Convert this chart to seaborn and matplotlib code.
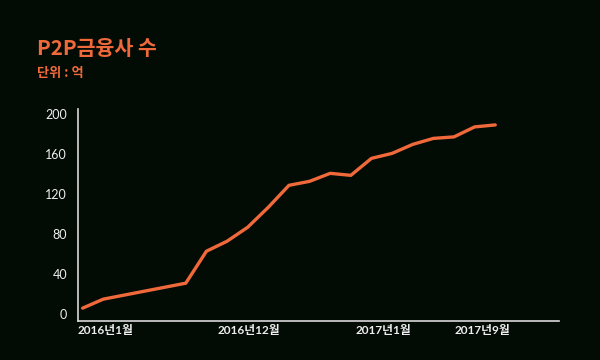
import matplotlib
matplotlib.use("Agg")
import matplotlib.pyplot as plt
import seaborn as sns
import pandas as pd

idx = list(range(21))
values = [6, 15, 19, 23, 27, 31, 63, 73, 87, 107, 129, 133, 141, 139, 156, 161, 170, 176, 177.5, 187.5, 189.5]
tick_pos = [1.1, 8.05, 14.6, 19.4]
tick_labels = ["2016년1월", "2016년12월", "2017년1월", "2017년9월"]
y_ticks = [0, 40, 80, 120, 160, 200]

BG = "#030b05"
ORANGE = "#f0693a"
AXIS = "#d8d8d8"

sns.set_theme(style="white")
plt.rcParams['font.family'] = ['Lato', 'Noto Sans CJK KR', 'DejaVu Sans']

df = pd.DataFrame({"i": idx, "v": values})

fig = plt.figure(figsize=(6, 3.6), dpi=100, facecolor=BG)
ax = fig.add_axes([0.1305, 0.108, 0.8015, 0.588])
ax.set_facecolor(BG)

sns.lineplot(data=df, x="i", y="v", ax=ax, color=ORANGE, linewidth=2.4)

ax.set_xlim(-0.21, 23.1)
ax.set_ylim(-7, 205)
ax.set_yticks(y_ticks)
ax.set_yticklabels([str(t) for t in y_ticks], color="#eeeeee", fontsize=9)
ax.set_xticks(tick_pos)
ax.set_xticklabels(tick_labels, color="#eeeeee", fontsize=8.5, fontweight="bold",
                   family=['Lato', 'Noto Sans CJK KR'])
ax.tick_params(axis="both", length=0)
ax.tick_params(axis="y", pad=8)
ax.tick_params(axis="x", pad=3)
ax.set_xlabel("")
ax.set_ylabel("")
for s in ["top", "right"]:
    ax.spines[s].set_visible(False)
for s in ["left", "bottom"]:
    ax.spines[s].set_color(AXIS)
    ax.spines[s].set_linewidth(1.2)
ax.grid(False)

fig.text(0.062, 0.846, "P2P금융사 수", color=ORANGE, fontsize=14.8, fontweight="bold",
         family=['Noto Sans CJK KR'], va="baseline")
fig.text(0.062, 0.787, "단위 : 억", color=ORANGE, fontsize=9.5, fontweight="bold",
         family=['Noto Sans CJK KR'], va="baseline")

fig.savefig("out.png", dpi=100, facecolor=BG)
